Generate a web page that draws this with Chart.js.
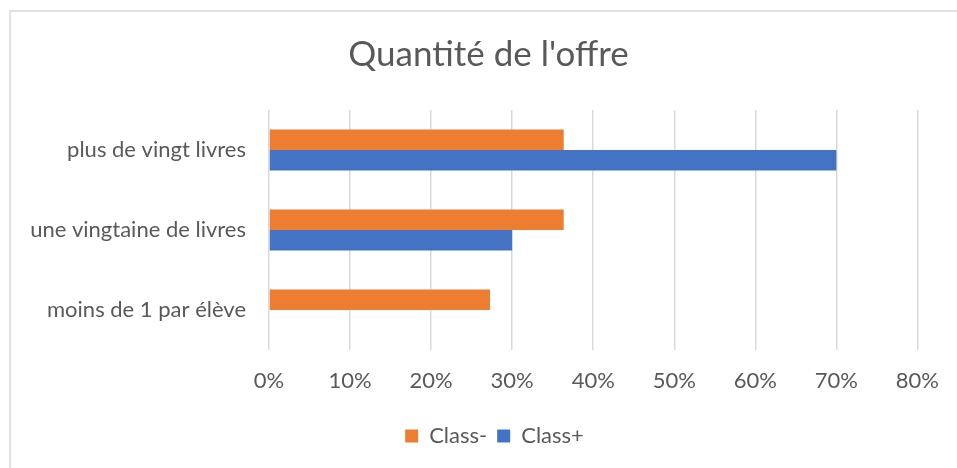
<!DOCTYPE html>
<html>
<head>
<meta charset="utf-8">
<script src="https://cdn.jsdelivr.net/npm/chart.js@4/dist/chart.umd.min.js"></script>
<style>
  html, body { margin: 0; padding: 0; background: #fff; }
  #wrap { width: 957px; height: 468px; position: relative; }
</style>
</head>
<body>
<div id="wrap"><canvas id="c" width="957" height="468"></canvas></div>
<script>
// Categories, top to bottom
const categories = ['plus de vingt livres', 'une vingtaine de livres', 'moins de 1 par élève'];
// Share of answers (%) per class group
const classMoins = [36.36, 36.36, 27.27];
const classPlus = [70, 30, 0];
const seriesNames = ['Class-', 'Class+'];
const xTicks = [0, 10, 20, 30, 40, 50, 60, 70, 80];

const TEXT = '#595959';
const FONT = 'Lato';

// Light frame around the chart (top and left edges visible)
const framePlugin = {
  id: 'frame',
  beforeDraw(chart) {
    const ctx = chart.ctx;
    ctx.save();
    ctx.fillStyle = '#ffffff';
    ctx.fillRect(0, 0, chart.width, chart.height);
    ctx.strokeStyle = '#d9d9d9';
    ctx.lineWidth = 1.5;
    ctx.beginPath();
    ctx.moveTo(10, chart.height + 5);
    ctx.lineTo(10, 11);
    ctx.lineTo(chart.width + 5, 11);
    ctx.stroke();
    ctx.restore();
  }
};

// Centre the title and legend on the whole frame rather than the padded box
const centerBlocks = {
  id: 'centerBlocks',
  afterLayout(chart) {
    const t = chart.titleBlock, l = chart.legend;
    if (t) { t.left += 23; t.right += 23; }
    if (l) { l.left += 29; l.right += 29; }
  }
};

new Chart(document.getElementById('c'), {
  type: 'bar',
  data: {
    labels: categories,
    datasets: [
      { label: seriesNames[0], data: classMoins, backgroundColor: '#ED7D31', borderWidth: 0 },
      { label: seriesNames[1], data: classPlus, backgroundColor: '#4472C4', borderWidth: 0 }
    ]
  },
  plugins: [framePlugin, centerBlocks],
  options: {
    indexAxis: 'y',
    responsive: false,
    animation: false,
    devicePixelRatio: 1,
    categoryPercentage: 0.51,
    barPercentage: 1.0,
    layout: { padding: { left: 10, right: 36, top: 0, bottom: 11 } },
    scales: {
      x: {
        min: 0,
        max: 80,
        afterBuildTicks(scale) { scale.ticks = xTicks.map(v => ({ value: v })); },
        afterFit(scale) { scale.height = 65; },
        grid: { color: '#d9d9d9', lineWidth: 1.5, drawTicks: false },
        border: { display: false },
        ticks: {
          padding: 18,
          color: TEXT,
          font: { family: FONT, size: 22 },
          callback: v => v + '%'
        }
      },
      y: {
        afterFit(scale) { scale.width = 259; },
        grid: { display: false, drawTicks: false },
        border: { display: false },
        ticks: {
          padding: 23,
          color: TEXT,
          font: { family: FONT, size: 22 }
        }
      }
    },
    plugins: {
      title: {
        display: true,
        text: "Quantité de l'offre",
        color: TEXT,
        font: { family: FONT, size: 35, weight: 'normal' },
        padding: { top: 34, bottom: 34 }
      },
      legend: {
        position: 'bottom',
        labels: {
          color: TEXT,
          font: { family: FONT, size: 22 },
          boxWidth: 13,
          boxHeight: 13,
          padding: 10
        }
      },
      tooltip: { enabled: false }
    }
  }
});
</script>
</body>
</html>
